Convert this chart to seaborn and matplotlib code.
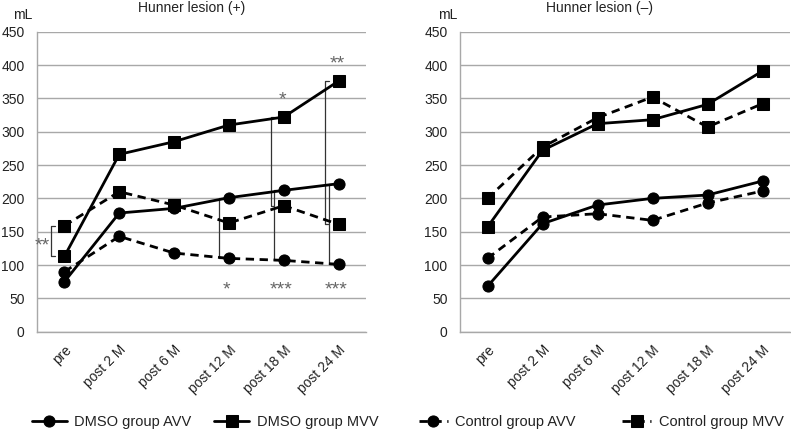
import matplotlib
matplotlib.use('Agg')
import matplotlib.pyplot as plt
import seaborn as sns
import pandas as pd

months = ['pre', 'post 2 M', 'post 6 M', 'post 12 M', 'post 18 M', 'post 24 M']

# Hunner lesion (+)
pos_dmso_avv = [75, 178, 185, 201, 212, 222]
pos_dmso_mvv = [113, 266, 285, 310, 322, 376]
pos_ctrl_avv = [90, 143, 118, 110, 107, 101]
pos_ctrl_mvv = [159, 210, 190, 163, 189, 161]

# Hunner lesion (-)
neg_dmso_avv = [68, 162, 190, 200, 205, 226]
neg_dmso_mvv = [157, 272, 312, 318, 341, 391]
neg_ctrl_avv = [110, 172, 177, 167, 193, 211]
neg_ctrl_mvv = [200, 277, 321, 352, 307, 342]

series_names = ['DMSO group AVV', 'DMSO group MVV', 'Control group AVV', 'Control group MVV']

# significance brackets in the (+) panel: month index, upper, lower, label, where
sig_marks = [
    (0, 'Control group MVV', 'DMSO group MVV', '**', 'left'),
    (3, 'DMSO group AVV', 'Control group AVV', '*', 'bottom'),
    (4, 'DMSO group MVV', 'Control group MVV', '*', 'top'),
    (4, 'DMSO group AVV', 'Control group AVV', '***', 'bottom'),
    (5, 'DMSO group MVV', 'Control group MVV', '**', 'top'),
    (5, 'DMSO group AVV', 'Control group AVV', '***', 'bottom'),
]

sns.set_style('white')
plt.rcParams['font.family'] = ['Liberation Sans', 'DejaVu Sans']
plt.rcParams['text.color'] = '#222222'

fig = plt.figure(figsize=(7.91, 4.32), dpi=100)
ax1 = fig.add_axes([37 / 791, 100.3 / 432, 329 / 791, 300 / 432])
ax2 = fig.add_axes([460 / 791, 100.3 / 432, 330 / 791, 300 / 432])

styles = {
    'DMSO group AVV': dict(marker='o', linestyle='-', markersize=8),
    'DMSO group MVV': dict(marker='s', linestyle='-', markersize=8.5),
    'Control group AVV': dict(marker='o', linestyle=(0, (3, 2)), markersize=8),
    'Control group MVV': dict(marker='s', linestyle=(0, (3, 2)), markersize=8.5),
}

panels = [
    (ax1, [pos_dmso_avv, pos_dmso_mvv, pos_ctrl_avv, pos_ctrl_mvv]),
    (ax2, [neg_dmso_avv, neg_dmso_mvv, neg_ctrl_avv, neg_ctrl_mvv]),
]

grey = '#a8a8a8'
for ax, vals in panels:
    for name, v in zip(series_names, vals):
        df = pd.DataFrame({'month': months, 'value': v})
        sns.lineplot(data=df, x='month', y='value', ax=ax, sort=False, color='black',
                     lw=2.0, markeredgecolor='black', label=name, zorder=3,
                     **styles[name])
    ax.set_xlim(-0.5, 5.5)
    ax.set_ylim(0, 450)
    ax.set_yticks(range(0, 451, 50))
    ax.grid(axis='y', color=grey, lw=1)
    ax.set_xlabel('')
    ax.set_ylabel('')
    for s in ['top', 'right']:
        ax.spines[s].set_visible(False)
    for s in ['left', 'bottom']:
        ax.spines[s].set_color(grey)
        ax.spines[s].set_linewidth(1)
    ax.set_xticks(range(len(months)))
    ax.set_xticklabels(months, rotation=45, ha='right', va='top', rotation_mode='anchor')
    ax.set_xticks([i - 0.5 for i in range(len(months) + 1)], minor=True)
    ax.tick_params(axis='x', which='major', length=0, pad=8, labelsize=10, labelcolor='#222222')
    ax.tick_params(axis='x', which='minor', length=5, width=1, color=grey, direction='out')
    ax.tick_params(axis='y', length=5, width=1, color=grey, direction='out', pad=4,
                   labelsize=10, labelcolor='#222222')
    ax.legend_.remove()

# significance brackets
lookup = dict(zip(series_names, panels[0][1]))
star = dict(ha='center', va='center', fontsize=14, color='#666666')
for idx, hi, lo, lab, where in sig_marks:
    top, bot = lookup[hi][idx], lookup[lo][idx]
    off = -0.24 if 'MVV' in hi else -0.18
    x0 = idx + off
    ax1.plot([x0 + 0.07, x0, x0, x0 + 0.07], [top, top, bot, bot], color='#333333',
             lw=0.9, zorder=2)
    if where == 'left':
        ax1.text(idx - 0.4, (top + bot) / 2 - 8, lab, **star)
    elif where == 'top':
        ax1.text(idx - 0.03, top + 26, lab, **star)
    else:
        ax1.text(idx - 0.04, 62, lab, **star)

fig.text(192 / 791, 1 - 8 / 432, 'Hunner lesion (+)', ha='center', va='center', fontsize=10)
fig.text(600 / 791, 1 - 8 / 432, 'Hunner lesion (\u2013)', ha='center', va='center', fontsize=10)
fig.text(23 / 791, 1 - 15 / 432, 'mL', ha='center', va='center', fontsize=10)
fig.text(448 / 791, 1 - 15 / 432, 'mL', ha='center', va='center', fontsize=10)

handles, labels = ax1.get_legend_handles_labels()
fig.legend(handles[:2], labels[:2], loc='center', bbox_to_anchor=(205 / 791, 1 - 422 / 432),
           ncol=2, frameon=False, fontsize=10.5, handlelength=2.4, handletextpad=0.5,
           columnspacing=1.6, borderpad=0)
fig.legend(handles[2:], labels[2:], loc='center', bbox_to_anchor=(601 / 791, 1 - 422 / 432),
           ncol=2, frameon=False, fontsize=10.5, handlelength=2.0, handletextpad=0.5,
           columnspacing=3.2, borderpad=0)

fig.savefig('out.png', dpi=100)
